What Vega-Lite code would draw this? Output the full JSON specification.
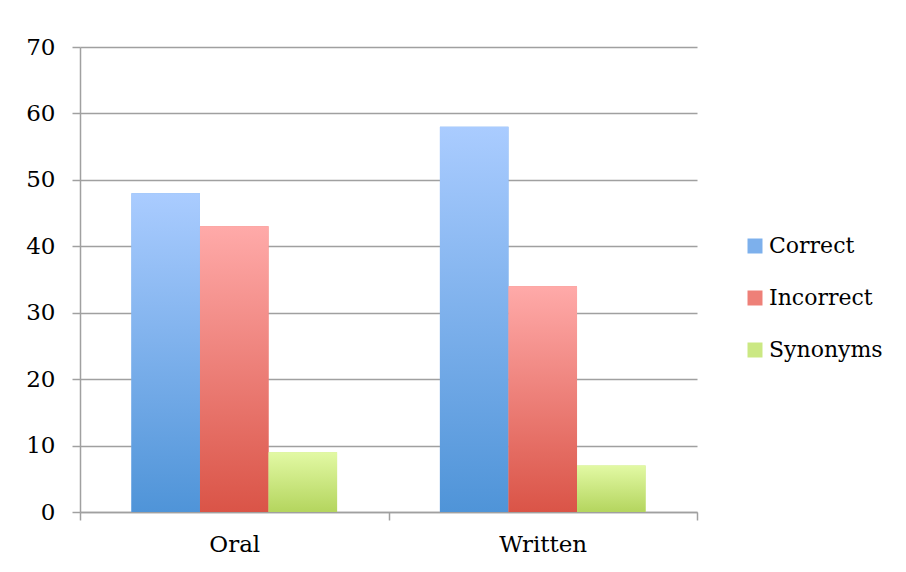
{
  "$schema": "https://vega.github.io/schema/vega-lite/v6.json",
  "width": 617,
  "height": 465,
  "autosize": "none",
  "padding": {"left": 80, "top": 47, "right": 209, "bottom": 60},
  "background": "white",
  "config": {
    "view": {"stroke": null},
    "font": "DejaVu Serif",
    "axis": {"labelFont": "DejaVu Serif", "labelFontSize": 23, "labelColor": "black", "domainColor": "#a0a0a0", "domainWidth": 1.5, "ticks": true, "tickColor": "#a0a0a0", "tickWidth": 1.5, "tickSize": 8, "gridColor": "#a0a0a0", "gridWidth": 1.5, "title": null},
    "legend": {"labelFont": "DejaVu Serif", "labelFontSize": 22, "labelColor": "black"}
  },
  "data": {
    "values": [
      {"mode": "Oral", "series": "Correct", "value": 48},
      {"mode": "Oral", "series": "Incorrect", "value": 43},
      {"mode": "Oral", "series": "Synonyms", "value": 9},
      {"mode": "Written", "series": "Correct", "value": 58},
      {"mode": "Written", "series": "Incorrect", "value": 34},
      {"mode": "Written", "series": "Synonyms", "value": 7}
    ]
  },
  "encoding": {
    "x": {
      "field": "mode", "type": "nominal",
      "scale": {"paddingInner": 0, "paddingOuter": 0},
      "axis": {"labelAngle": 0, "tickBand": "extent", "labelPadding": 13, "grid": false}
    },
    "xOffset": {
      "field": "series", "type": "nominal",
      "scale": {"domain": ["Correct", "Incorrect", "Synonyms"], "paddingInner": 0, "paddingOuter": 0.75}
    },
    "y": {
      "field": "value", "type": "quantitative",
      "scale": {"domain": [0, 70], "nice": false},
      "axis": {"values": [0, 10, 20, 30, 40, 50, 60, 70], "grid": true, "labelPadding": 17, "domain": true}
    }
  },
  "layer": [
    {
      "mark": {"type": "bar"},
      "encoding": {
        "color": {
          "field": "series", "type": "nominal",
          "scale": {"domain": ["Correct", "Incorrect", "Synonyms"], "range": ["#7db0ec", "#ee8078", "#cbe883"]},
          "legend": {
            "title": null, "orient": "none", "legendX": 664, "legendY": 188,
            "symbolType": "square", "symbolSize": 225, "symbolStrokeWidth": 0,
            "rowPadding": 30, "labelOffset": 3
          }
        }
      }
    },
    {
      "mark": {"type": "bar"},
      "encoding": {
        "fill": {
          "condition": [
            {"test": "datum.series === 'Correct'", "value": {"gradient": "linear", "x1": 0, "y1": 0, "x2": 0, "y2": 1, "stops": [{"offset": 0, "color": "#aaccff"}, {"offset": 1, "color": "#4f94d8"}]}},
            {"test": "datum.series === 'Incorrect'", "value": {"gradient": "linear", "x1": 0, "y1": 0, "x2": 0, "y2": 1, "stops": [{"offset": 0, "color": "#ffaaa9"}, {"offset": 1, "color": "#da5447"}]}}
          ],
          "value": {"gradient": "linear", "x1": 0, "y1": 0, "x2": 0, "y2": 1, "stops": [{"offset": 0, "color": "#e2f9a4"}, {"offset": 1, "color": "#b4d55e"}]}
        }
      }
    }
  ]
}
